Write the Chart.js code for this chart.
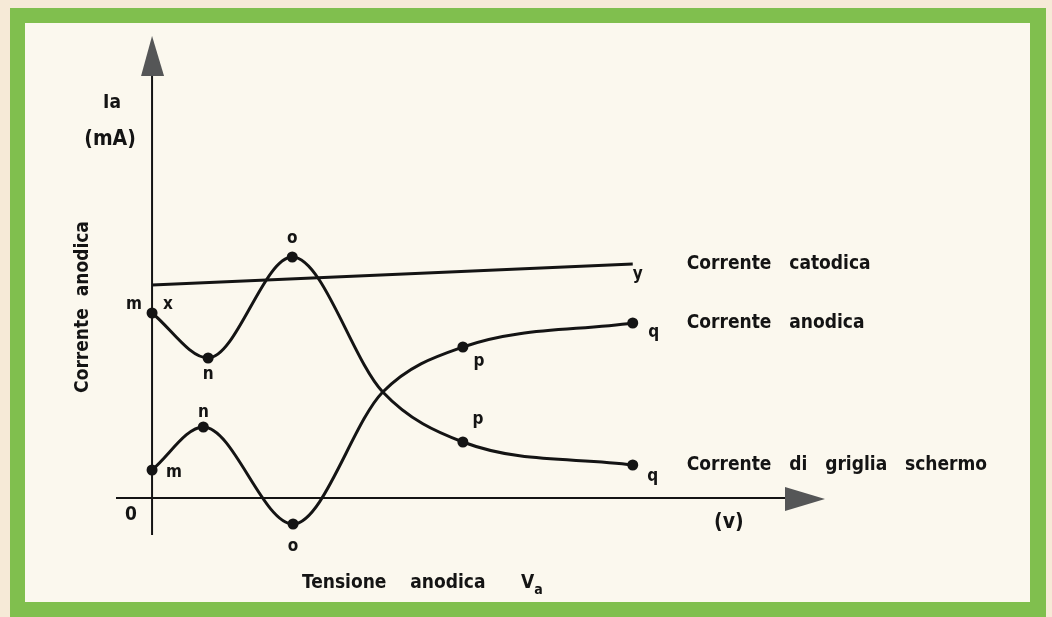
<!DOCTYPE html>
<html>
<head>
<meta charset="utf-8">
<script src="https://cdn.jsdelivr.net/npm/chart.js@4.4.1/dist/chart.umd.min.js"></script>
<style>
  body { margin: 0; background: #f6ead7; }
  #frame { position: absolute; left: 10px; top: 8px; width: 1036px; height: 609px; background: #80bf4e; }
  #paper { position: absolute; left: 25px; top: 23px; width: 1005px; height: 579px; background: #fbf8ee; }
  #wrap { position: absolute; left: 0; top: 0; width: 1052px; height: 617px; }
</style>
</head>
<body>
<div id="frame"></div>
<div id="paper"></div>
<div id="wrap"><canvas id="chart" width="1052" height="617"></canvas></div>
<script>
// tensione anodica (unita' arbitrarie) e correnti (mA, arbitrarie)
const gridX = [0, 3.5, 8.75, 14.4, 19.4, 30];
const gridY = [18.5, 14.0, 24.1, 10.6, 5.6, 3.3];
const gridTags = ['m', 'n', 'o', '', 'p', 'q'];

const anodeX = [0, 3.2, 8.8, 14.4, 19.4, 30];
const anodeY = [2.8, 7.1, -2.6, 10.6, 15.1, 17.5];
const anodeTags = ['m', 'n', 'o', '', 'p', 'q'];

const cathodeX = [0, 30];
const cathodeY = [21.3, 23.4];

const seriesNames = ['Corrente   catodica', 'Corrente   anodica', 'Corrente   di   griglia   schermo'];

// label offsets (px) from each marked point
const tagOffsets = [
  { y: [5, 11] },
  { m: [22, 3], n: [0, -14], o: [0, 23], p: [16, 15], q: [21, 10] },
  { m: [-18, -8], x: [16, -8], n: [0, 17], o: [0, -18], p: [15, -22], q: [20, 12] }
];

const FONT = '"DejaVu Sans Condensed", "DejaVu Sans", sans-serif';
const INK = '#141414';
const ARROW = '#555657';

const toPts = (xs, ys) => xs.map((x, i) => ({ x: x, y: ys[i] }));

const axesPlugin = {
  id: 'axes',
  beforeDatasetsDraw(chart) {
    const { ctx, chartArea: a, scales: { x, y } } = chart;
    const x0 = x.getPixelForValue(0);
    const y0 = y.getPixelForValue(0);
    ctx.save();
    ctx.strokeStyle = INK;
    ctx.lineWidth = 2;
    ctx.beginPath();
    ctx.moveTo(x0, a.bottom);
    ctx.lineTo(x0, a.top + 40);
    ctx.moveTo(a.left, y0);
    ctx.lineTo(a.right - 40, y0);
    ctx.stroke();
    ctx.fillStyle = ARROW;
    ctx.beginPath();
    ctx.moveTo(x0, a.top);
    ctx.lineTo(x0 + 12, a.top + 40);
    ctx.lineTo(x0 - 11, a.top + 40);
    ctx.closePath();
    ctx.fill();
    ctx.beginPath();
    ctx.moveTo(a.right, y0 + 1);
    ctx.lineTo(a.right - 40, y0 - 11);
    ctx.lineTo(a.right - 40, y0 + 13);
    ctx.closePath();
    ctx.fill();
    ctx.restore();
  }
};

const labelsPlugin = {
  id: 'labels',
  afterDatasetsDraw(chart) {
    const { ctx, chartArea: a, scales: { x, y } } = chart;
    const x0 = x.getPixelForValue(0);
    const y0 = y.getPixelForValue(0);
    ctx.save();
    ctx.fillStyle = INK;
    ctx.textBaseline = 'middle';

    // point letters
    ctx.font = 'bold 17px ' + FONT;
    ctx.textAlign = 'center';
    const tagsBySet = [['', 'y'], anodeTags, gridTags];
    chart.data.datasets.forEach((ds, di) => {
      const pts = chart.getDatasetMeta(di).data;
      const offs = tagOffsets[di];
      tagsBySet[di].forEach((t, i) => {
        if (!t) return;
        const o = offs[t];
        ctx.fillText(t, pts[i].x + o[0], pts[i].y + o[1]);
      });
      // extra 'x' beside the first point of the screen grid curve
      if (di === 2) {
        const o = offs.x;
        ctx.fillText('x', pts[0].x + o[0], pts[0].y + o[1]);
      }
      // series name to the right of the last point
      const last = pts[pts.length - 1];
      ctx.save();
      ctx.font = 'bold 19px ' + FONT;
      ctx.textAlign = 'left';
      ctx.fillText(seriesNames[di], last.x + 54, last.y);
      ctx.restore();
    });

    // axis titles
    ctx.font = 'bold 19px ' + FONT;
    ctx.textAlign = 'center';
    ctx.fillText('Ia', x0 - 40, a.top + 67);
    ctx.font = 'bold 21px ' + FONT;
    ctx.fillText('(mA)', x0 - 42, a.top + 104);
    ctx.font = 'bold 19px ' + FONT;
    ctx.fillText('0', x0 - 21, y0 + 17);
    ctx.font = 'bold 21px ' + FONT;
    ctx.fillText('(v)', x.getPixelForValue(36), y0 + 25);

    ctx.font = 'bold 19px ' + FONT;
    ctx.textAlign = 'left';
    const t = 'Tensione    anodica      V';
    const tx = 302;
    ctx.fillText(t, tx, 583);
    const w = ctx.measureText(t).width;
    ctx.font = 'bold 14px ' + FONT;
    ctx.fillText('a', tx + w, 590);

    ctx.save();
    ctx.translate(83, 307);
    ctx.rotate(-Math.PI / 2);
    ctx.font = 'bold 19px ' + FONT;
    ctx.textAlign = 'center';
    ctx.fillText('Corrente  anodica', 0, 0);
    ctx.restore();

    ctx.restore();
  }
};

const ctx = document.getElementById('chart').getContext('2d');
new Chart(ctx, {
  type: 'line',
  data: {
    datasets: [
      {
        label: seriesNames[0],
        data: toPts(cathodeX, cathodeY),
        borderColor: INK,
        borderWidth: 3,
        pointRadius: 0,
        tension: 0
      },
      {
        label: seriesNames[1],
        data: toPts(anodeX, anodeY),
        borderColor: INK,
        borderWidth: 3,
        cubicInterpolationMode: 'monotone',
        pointRadius: anodeTags.map(t => t ? 5.5 : 0),
        pointBackgroundColor: INK,
        pointBorderWidth: 0
      },
      {
        label: seriesNames[2],
        data: toPts(gridX, gridY),
        borderColor: INK,
        borderWidth: 3,
        cubicInterpolationMode: 'monotone',
        pointRadius: gridTags.map(t => t ? 5.5 : 0),
        pointBackgroundColor: INK,
        pointBorderWidth: 0
      }
    ]
  },
  options: {
    responsive: false,
    animation: false,
    layout: { padding: { left: 116, right: 227, top: 36, bottom: 82 } },
    scales: {
      x: { type: 'linear', min: -2.25, max: 42, display: false },
      y: { type: 'linear', min: -3.7, max: 46.2, display: false }
    },
    plugins: {
      legend: { display: false },
      tooltip: { enabled: false }
    }
  },
  plugins: [axesPlugin, labelsPlugin]
});
</script>
</body>
</html>
